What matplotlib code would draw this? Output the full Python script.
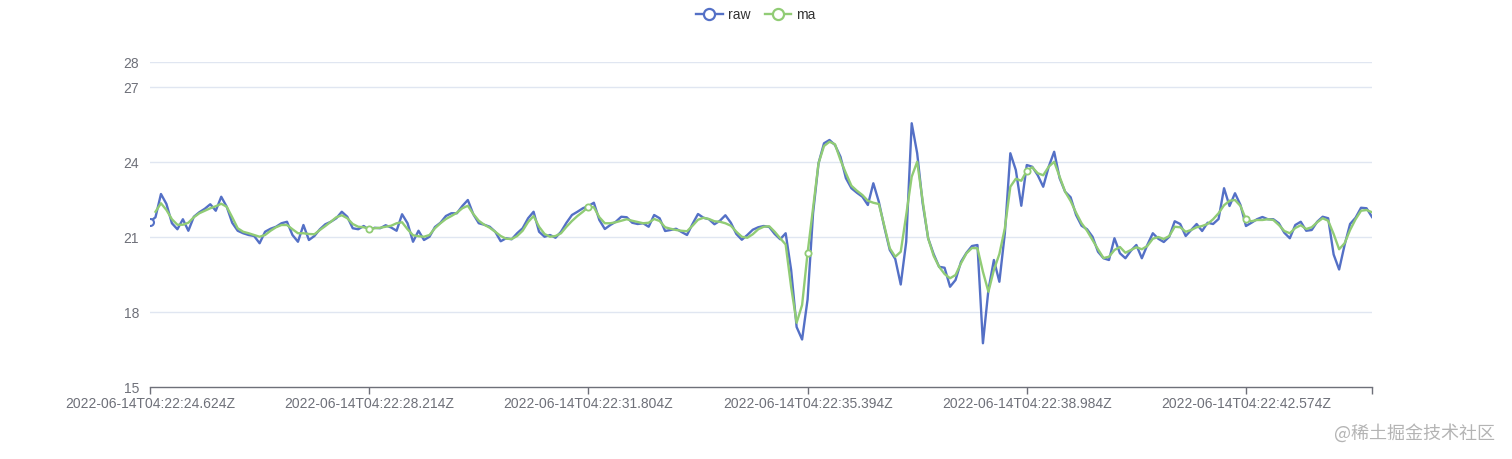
import numpy as np
import pandas as pd
import matplotlib
matplotlib.use('Agg')
import matplotlib.pyplot as plt
from matplotlib.lines import Line2D

plt.rcParams['font.family'] = ['Liberation Sans', 'DejaVu Sans']

START = '2022-06-14T04:22:24.624Z'
STEP_MS = 89.75          # sampling step between points
LABEL_EVERY = 40         # a category label every 40 points

raw = [
    21.61, 21.79, 22.72, 22.32, 21.55, 21.31, 21.71, 21.25, 21.81, 21.99,
    22.13, 22.31, 22.05, 22.61, 22.21, 21.57, 21.25, 21.15, 21.08, 21.04,
    20.75, 21.21, 21.33, 21.41, 21.55, 21.61, 21.08, 20.81, 21.48, 20.88,
    21.04, 21.31, 21.51, 21.61, 21.75, 22.01, 21.81, 21.35, 21.31, 21.44,
    21.28, 21.37, 21.35, 21.47, 21.38, 21.25, 21.91, 21.55, 20.81, 21.25,
    20.88, 21.01, 21.40, 21.57, 21.84, 21.95, 21.95, 22.24, 22.48, 21.91,
    21.55, 21.49, 21.41, 21.21, 20.83, 20.95, 20.91, 21.15, 21.35, 21.75,
    22.01, 21.21, 21.01, 21.08, 20.97, 21.21, 21.57, 21.88, 22.01, 22.15,
    22.24, 22.37, 21.68, 21.32, 21.48, 21.61, 21.81, 21.79, 21.57, 21.52,
    21.55, 21.41, 21.88, 21.75, 21.24, 21.28, 21.33, 21.20, 21.08, 21.52,
    21.92, 21.77, 21.71, 21.51, 21.65, 21.87, 21.57, 21.12, 20.89, 21.08,
    21.29, 21.39, 21.44, 21.40, 21.12, 20.91, 21.15, 19.68, 17.40, 16.90,
    18.50, 21.95, 23.95, 24.75, 24.88, 24.68, 24.21, 23.35, 22.95, 22.77,
    22.61, 22.28, 23.15, 22.41, 21.40, 20.48, 20.12, 19.10, 20.81, 25.55,
    24.35, 22.35, 20.95, 20.32, 19.81, 19.77, 19.01, 19.28, 20.01, 20.37,
    20.64, 20.68, 16.75, 18.88, 20.08, 19.21, 21.15, 24.35, 23.68, 22.25,
    23.88, 23.81, 23.47, 23.01, 23.81, 24.41, 23.35, 22.81, 22.59, 21.88,
    21.45, 21.31, 21.01, 20.41, 20.15, 20.08, 20.95, 20.35, 20.15, 20.45,
    20.68, 20.15, 20.68, 21.15, 20.93, 20.80, 21.01, 21.63, 21.52, 21.04,
    21.28, 21.52, 21.24, 21.57, 21.52, 21.72, 22.95, 22.24, 22.75, 22.28,
    21.44, 21.57, 21.71, 21.80, 21.71, 21.71, 21.55, 21.17, 20.95, 21.48,
    21.61, 21.25, 21.28, 21.61, 21.81, 21.75, 20.30, 19.70, 20.68, 21.52,
    21.77, 22.17, 22.15, 21.80,
]

ma = [
    np.nan, 22.01, 22.35, 22.08, 21.71, 21.49, 21.49, 21.57, 21.79, 21.95,
    22.05, 22.15, 22.23, 22.33, 22.21, 21.79, 21.35, 21.21, 21.15, 21.08,
    21.01, 21.08, 21.25, 21.39, 21.48, 21.48, 21.31, 21.15, 21.15, 21.12,
    21.11, 21.28, 21.44, 21.61, 21.79, 21.87, 21.75, 21.52, 21.41, 21.39,
    21.33, 21.35, 21.37, 21.41, 21.45, 21.55, 21.59, 21.31, 21.07, 21.03,
    21.01, 21.08, 21.35, 21.55, 21.72, 21.84, 21.97, 22.15, 22.25, 21.92,
    21.65, 21.49, 21.37, 21.21, 21.04, 20.93, 20.92, 21.04, 21.25, 21.60,
    21.84, 21.41, 21.12, 21.01, 21.04, 21.15, 21.41, 21.64, 21.84, 22.01,
    22.21, 22.19, 21.79, 21.55, 21.55, 21.59, 21.65, 21.71, 21.65, 21.60,
    21.55, 21.57, 21.72, 21.64, 21.39, 21.33, 21.28, 21.25, 21.23, 21.45,
    21.69, 21.77, 21.72, 21.63, 21.61, 21.55, 21.45, 21.21, 21.01, 20.97,
    21.11, 21.31, 21.41, 21.43, 21.21, 20.95, 20.70, 19.00, 17.57, 18.28,
    20.36, 22.15, 23.95, 24.64, 24.81, 24.71, 24.08, 23.55, 23.05, 22.85,
    22.68, 22.45, 22.37, 22.32, 21.45, 20.55, 20.21, 20.41, 21.88, 23.41,
    24.01, 22.45, 20.95, 20.25, 19.81, 19.52, 19.35, 19.48, 19.95, 20.35,
    20.56, 20.55, 19.61, 18.81, 19.68, 20.32, 21.35, 23.01, 23.33, 23.25,
    23.65, 23.79, 23.55, 23.47, 23.81, 24.01, 23.41, 22.81, 22.44, 21.97,
    21.55, 21.25, 20.88, 20.51, 20.16, 20.21, 20.48, 20.60, 20.37, 20.48,
    20.59, 20.51, 20.64, 20.93, 21.00, 20.92, 21.04, 21.41, 21.39, 21.21,
    21.28, 21.39, 21.44, 21.52, 21.71, 21.95, 22.27, 22.45, 22.48, 22.24,
    21.71, 21.63, 21.68, 21.68, 21.71, 21.68, 21.48, 21.24, 21.15, 21.36,
    21.47, 21.32, 21.39, 21.59, 21.75, 21.65, 21.12, 20.51, 20.75, 21.28,
    21.71, 22.05, 22.08, 21.99,
]

y_ticks = [15, 18, 21, 24, 27, 28]

RAW_COLOR = '#5470c6'
MA_COLOR = '#91cc75'
AXIS_COLOR = '#6e7079'
GRID_COLOR = '#e0e6f1'

n = len(raw)
times = pd.Timestamp(START) + pd.to_timedelta(np.arange(n) * STEP_MS, unit='ms')
labels = [t.strftime('%Y-%m-%dT%H:%M:%S.') + '%03dZ' % round(t.microsecond / 1000) for t in times]
x = np.arange(n)

fig = plt.figure(figsize=(15.12, 4.59), dpi=100)
ax = fig.add_axes([150 / 1512, 72 / 459, 1222 / 1512, 325 / 459])

ax.plot(x, raw, color=RAW_COLOR, lw=1.7, solid_joinstyle='round',
        marker='o', markevery=[0], markersize=5, markerfacecolor='white',
        markeredgewidth=1.5, zorder=3)
ax.plot(x, ma, color=MA_COLOR, lw=1.7, solid_joinstyle='round',
        marker='o', markevery=LABEL_EVERY, markersize=4.5, markerfacecolor='white',
        markeredgewidth=1.3, zorder=4)

ax.set_xlim(0, n - 1)
ax.set_ylim(15, 28)
ax.set_yticks(y_ticks)
ax.set_yticklabels([str(v) for v in y_ticks])
for v in y_ticks[1:]:
    ax.axhline(v, color=GRID_COLOR, lw=1, zorder=1)

tick_idx = list(range(0, n, LABEL_EVERY)) + [n - 1]
ax.set_xticks(tick_idx)
ax.set_xticklabels([labels[i] if i % LABEL_EVERY == 0 else '' for i in tick_idx])

for s in ['top', 'right', 'left']:
    ax.spines[s].set_visible(False)
ax.spines['bottom'].set_color(AXIS_COLOR)
ax.spines['bottom'].set_linewidth(1)
ax.tick_params(axis='x', colors=AXIS_COLOR, length=5, width=1, labelsize=10, pad=2)
ax.tick_params(axis='y', colors=AXIS_COLOR, length=0, labelsize=10, pad=8)

handles = [
    Line2D([0], [0], color=RAW_COLOR, lw=1.7, marker='o', markersize=8,
           markerfacecolor='white', markeredgewidth=1.6, label='raw'),
    Line2D([0], [0], color=MA_COLOR, lw=1.7, marker='o', markersize=8,
           markerfacecolor='white', markeredgewidth=1.6, label='ma'),
]
fig.legend(handles=handles, loc='upper center', bbox_to_anchor=(0.5, 1.01), ncol=2,
           frameon=False, fontsize=10, handlelength=1.9, columnspacing=1.0,
           handletextpad=0.4, labelcolor='#333333')

fig.text(0.989, 0.055, '@稀土掘金技术社区', ha='right', va='center', fontsize=13,
         color='#b4b4b4', family=['Noto Sans CJK SC', 'DejaVu Sans'])

plt.savefig('out.png', dpi=100)
